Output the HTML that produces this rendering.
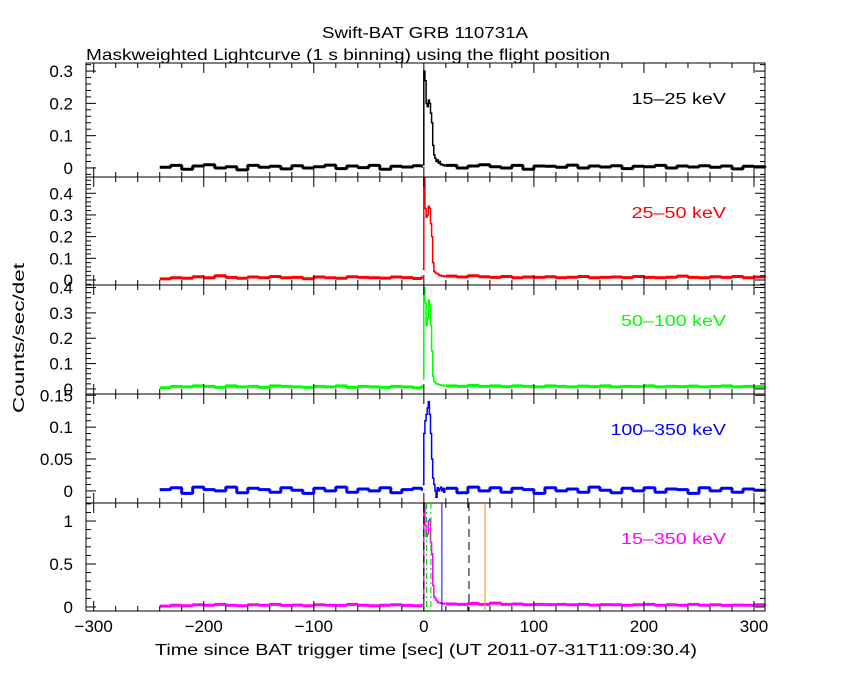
<!DOCTYPE html>
<html><head><meta charset="utf-8"><style>
html,body{margin:0;padding:0;background:#fff;}
svg{display:block;font-family:"Liberation Sans",sans-serif;}
</style></head><body>
<svg id="chart" width="850" height="680">
<text x="425" y="38" font-size="16" text-anchor="middle" textLength="206" lengthAdjust="spacingAndGlyphs">Swift-BAT GRB 110731A</text>
<text x="86" y="60" font-size="16" textLength="524" lengthAdjust="spacingAndGlyphs">Maskweighted Lightcurve (1 s binning) using the flight position</text>
<text x="24" y="338" font-size="16" text-anchor="middle" textLength="150" lengthAdjust="spacingAndGlyphs" transform="rotate(-90 24 338)">Counts/sec/det</text>
<text x="426" y="655" font-size="16" text-anchor="middle" textLength="542" lengthAdjust="spacingAndGlyphs">Time since BAT trigger time [sec] (UT 2011-07-31T11:09:30.4)</text>
</svg>
<script>
// x axis
const xTicks = [-300,-200,-100,0,100,200,300];
// background series (10 s steps from -240 to 310)
const bgTimes = [-240,-230,-220,-210,-200,-190,-180,-170,-160,-150,-140,-130,-120,-110,-100,-90,-80,-70,-60,-50,-40,-30,-20,-10,-2];
const bgTimesPost = [20,30,40,50,60,70,80,90,100,110,120,130,140,150,160,170,180,190,200,210,220,230,240,250,260,270,280,290,300,310];
// burst times (1 s)
const burstTimes = [-1,0,1,2,3,4,5,6,7,8,9,10,11,12,13,14,15,16,17,18,19];
// panel 1: 15-25 keV
const bg1 = [0.002,0.008,-0.004,0.006,0.01,0.0,0.004,-0.006,0.008,0.002,0.005,-0.003,0.007,0.0,0.004,0.009,-0.002,0.006,0.001,0.008,-0.004,0.005,0.003,0.007,0.005];
const burst1 = [0.01,0.3,0.27,0.2,0.19,0.21,0.2,0.17,0.14,0.07,0.04,0.03,0.02,0.025,0.015,0.02,0.01,0.012,0.008,0.01,0.006];
const post1 = [0.008,0.0,0.006,0.01,0.004,0.0,0.008,-0.004,0.006,0.005,0.002,0.009,0.0,0.006,0.003,0.007,-0.002,0.005,0.004,0.008,0.0,0.006,0.003,0.007,0.002,0.006,-0.003,0.005,0.004,0.001];
// panel 2: 25-50 keV
const bg2 = [0.005,0.01,0.008,0.015,0.01,0.02,0.012,0.008,0.014,0.01,0.016,0.01,0.012,0.006,0.014,0.01,0.008,0.015,0.012,0.01,0.009,0.014,0.011,0.007,0.012];
const burst2 = [0.05,0.47,0.33,0.29,0.3,0.34,0.33,0.26,0.2,0.08,0.04,0.035,0.03,0.03,0.025,0.02,0.022,0.018,0.02,0.015,0.018];
const post2 = [0.018,0.014,0.02,0.015,0.012,0.016,0.01,0.014,0.012,0.015,0.01,0.013,0.016,0.01,0.012,0.014,0.011,0.016,0.012,0.01,0.013,0.018,0.012,0.01,0.015,0.012,0.016,0.01,0.014,0.012];
// panel 3: 50-100 keV
const bg3 = [0.005,0.01,0.008,0.012,0.01,0.006,0.012,0.008,0.01,0.006,0.012,0.01,0.008,0.006,0.01,0.008,0.012,0.006,0.01,0.008,0.006,0.01,0.008,0.005,0.01];
const burst3 = [0.04,0.4,0.34,0.25,0.28,0.35,0.33,0.25,0.15,0.05,0.03,0.025,0.02,0.02,0.018,0.015,0.016,0.014,0.015,0.012,0.014];
const post3 = [0.012,0.01,0.014,0.01,0.012,0.009,0.012,0.01,0.008,0.012,0.01,0.008,0.011,0.009,0.012,0.008,0.01,0.009,0.012,0.008,0.01,0.009,0.011,0.008,0.01,0.012,0.008,0.01,0.009,0.008];
// panel 4: 100-350 keV
const bg4 = [0.002,0.005,-0.004,0.006,0.002,0.0,0.006,-0.003,0.004,0.002,-0.002,0.005,0.001,-0.004,0.004,0.0,0.006,-0.002,0.003,0.0,0.005,-0.003,0.002,0.004,0.002];
const burst4 = [0.01,0.09,0.11,0.12,0.13,0.14,0.12,0.09,0.05,0.02,0.01,0.0,-0.01,0.005,0.0,0.003,0.006,0.0,0.004,-0.002,0.003];
const post4 = [0.004,-0.003,0.006,0.0,0.005,-0.002,0.004,0.002,-0.004,0.005,0.0,0.003,-0.002,0.006,0.001,-0.003,0.004,0.0,0.005,-0.002,0.003,0.002,-0.004,0.005,0.0,0.004,-0.002,0.003,0.001,0.002];
// panel 5: 15-350 keV
const bg5 = [0.01,0.02,0.015,0.025,0.02,0.03,0.02,0.015,0.025,0.02,0.03,0.018,0.022,0.015,0.025,0.02,0.018,0.03,0.02,0.015,0.02,0.025,0.018,0.015,0.02];
const burst5 = [0.1,1.2,0.95,0.82,0.85,1.0,1.02,0.75,0.62,0.25,0.12,0.1,0.08,0.06,0.05,0.05,0.04,0.045,0.04,0.035,0.04];
const post5 = [0.035,0.03,0.04,0.03,0.045,0.03,0.035,0.025,0.03,0.028,0.03,0.025,0.03,0.022,0.028,0.025,0.02,0.025,0.03,0.02,0.025,0.02,0.03,0.02,0.025,0.018,0.022,0.02,0.025,0.02];
// panel 5 marker times
const markerBlack = [0,41];
const markerGreen = [2.4,6.4];
const markerBlue = [16.4];
const markerOrange = [55.6];

const panels = [
 {name:'15-25',label:'15\u201325 keV',color:'#000',top:63,bot:177,ymin:-0.028,ymax:0.325,ticks:[0,0.1,0.2,0.3],labels:['0','0.1','0.2','0.3'],minor:0.02,bg:bg1,burst:burst1,post:post1},
 {name:'25-50',label:'25\u201350 keV',color:'#f00',top:177,bot:285,ymin:-0.023,ymax:0.475,ticks:[0,0.1,0.2,0.3,0.4],labels:['0','0.1','0.2','0.3','0.4'],minor:0.02,bg:bg2,burst:burst2,post:post2},
 {name:'50-100',label:'50\u2013100 keV',color:'#0f0',top:285,bot:394,ymin:-0.02,ymax:0.41,ticks:[0,0.1,0.2,0.3,0.4],labels:['0','0.1','0.2','0.3','0.4'],minor:0.02,bg:bg3,burst:burst3,post:post3},
 {name:'100-350',label:'100\u2013350 keV',color:'#00f',top:394,bot:503,ymin:-0.019,ymax:0.152,ticks:[0,0.05,0.1,0.15],labels:['0','0.05','0.1','0.15'],minor:0.01,bg:bg4,burst:burst4,post:post4},
 {name:'15-350',label:'15\u2013350 keV',color:'#f0f',top:503,bot:611,ymin:-0.047,ymax:1.21,ticks:[0,0.5,1],labels:['0','0.5','1'],minor:0.1,bg:bg5,burst:burst5,post:post5}
];
const L=86,R=765,XMIN=-307,XMAX=310;
const NS='http://www.w3.org/2000/svg';
const svg=document.getElementById('chart');
function xs(t){return L+(t-XMIN)/(XMAX-XMIN)*(R-L);}
function mk(tag,attrs,parent){const e=document.createElementNS(NS,tag);for(const k in attrs)e.setAttribute(k,attrs[k]);(parent||svg).appendChild(e);return e;}
function stepPath(times,vals,ys,endT){
  let d='';
  for(let i=0;i<times.length;i++){
    const x0=xs(times[i]);
    const x1=i<times.length-1?xs(times[i+1]):xs(endT);
    const y=ys(vals[i]);
    d+=(i===0?'M':'L')+x0.toFixed(1)+','+y.toFixed(1)+'L'+x1.toFixed(1)+','+y.toFixed(1);
  }
  return d;
}

panels.forEach((p,pi)=>{
  const ys=v=>p.bot-(v-p.ymin)/(p.ymax-p.ymin)*(p.bot-p.top);
  const g=mk('g',{});
  
  
  const b1=mk('path',{d:stepPath(bgTimes,p.bg,ys,-1),fill:'none',stroke:p.color,'stroke-width':3,'stroke-linejoin':'bevel'},g);
  
  
  const b2=mk('path',{d:stepPath(burstTimes,p.burst,ys,20),fill:'none',stroke:p.color,'stroke-width':1.5},g);
  
  
  const b3=mk('path',{d:stepPath(bgTimesPost,p.post,ys,310),fill:'none',stroke:p.color,'stroke-width':3,'stroke-linejoin':'bevel'},g);
  
  
  const fr=mk('rect',{x:L,y:p.top,width:R-L,height:p.bot-p.top,fill:'none',stroke:'#000','stroke-width':1},g);
  
  
  for(let t=-300;t<=300;t+=20){
    const x=xs(t),len=(t%100===0)?10:5;
    mk('line',{x1:x,x2:x,y1:p.bot,y2:p.bot-len,stroke:'#000'},g);
    mk('line',{x1:x,x2:x,y1:p.top,y2:p.top+len,stroke:'#000'},g);
  }
  for(let v=Math.ceil(p.ymin/p.minor)*p.minor;v<=p.ymax+1e-9;v+=p.minor){
    const y=ys(v);
    const major=p.ticks.some(tk=>Math.abs(tk-v)<1e-6);
    const len=major?10:5;
    mk('line',{x1:L,x2:L+len,y1:y,y2:y,stroke:'#000'},g);
    mk('line',{x1:R,x2:R-len,y1:y,y2:y,stroke:'#000'},g);
  }
  p.ticks.forEach((tk,i)=>{
    const t=mk('text',{x:73,y:ys(tk)+6,'font-size':17,'text-anchor':'end'},g);
    t.textContent=p.labels[i];
    
    
  });
  const lb=mk('text',{x:726,y:p.top+41,'font-size':16,'text-anchor':'end',fill:p.color,textLength:p.label.length*10.5,lengthAdjust:'spacingAndGlyphs'},g);
  lb.textContent=p.label;
  
  
  if(pi===4){
    const mline=(t,col,dash,nm)=>{
      const l=mk('line',{x1:xs(t),x2:xs(t),y1:p.top,y2:p.bot,stroke:col,'stroke-width':1,'stroke-dasharray':dash},g);
      
      
    };
    markerBlack.forEach(t=>mline(t,'#000','8,5','marker-t90-bounds'));
    markerGreen.forEach(t=>mline(t,'#0c0','6,3,2,3','marker-t50-bounds'));
    markerBlue.forEach(t=>mline(t,'#00f','','marker-blue'));
    markerOrange.forEach(t=>mline(t,'#f80','','marker-orange'));
  }
});
xTicks.forEach(t=>{
  const tx=mk('text',{x:xs(t),y:632,'font-size':17,'text-anchor':'middle'});
  tx.textContent=String(t).replace('-','\u2212');
  
  
});
</script>
</body></html>
